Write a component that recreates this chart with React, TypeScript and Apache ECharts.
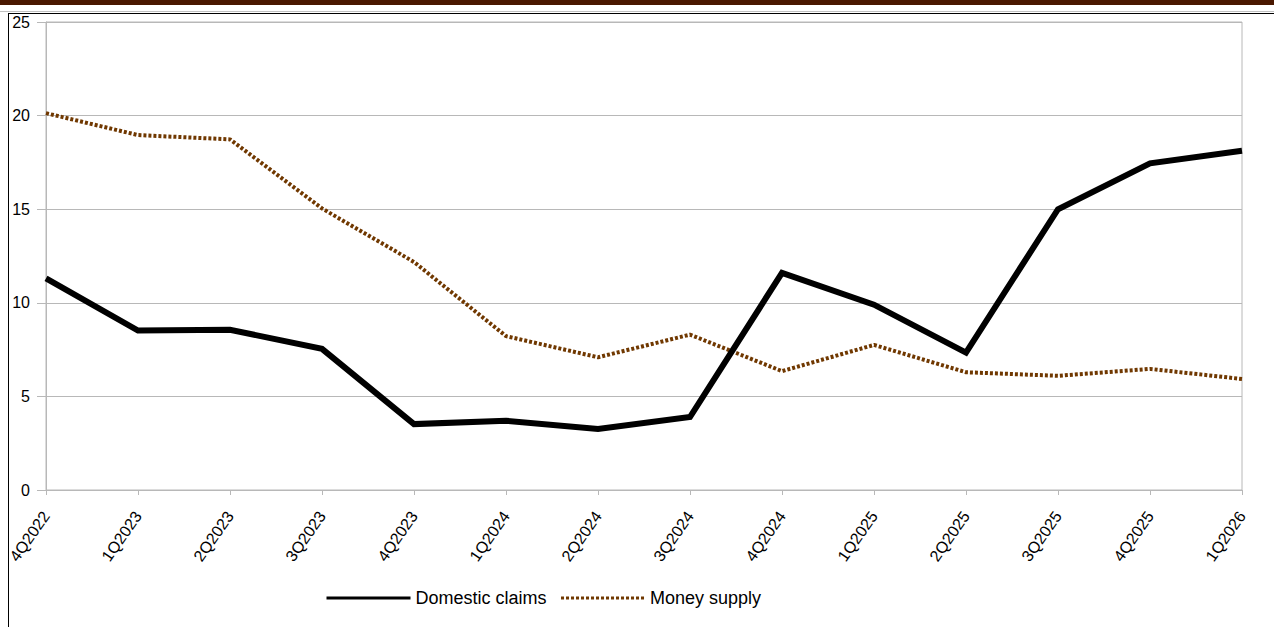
import React, { useEffect, useRef } from "react";
import * as echarts from "echarts";

const categories = [
  "4Q2022", "1Q2023", "2Q2023", "3Q2023", "4Q2023", "1Q2024", "2Q2024",
  "3Q2024", "4Q2024", "1Q2025", "2Q2025", "3Q2025", "4Q2025", "1Q2026",
];
const domesticClaims = [11.3, 8.52, 8.56, 7.54, 3.52, 3.7, 3.26, 3.9, 11.6, 9.9, 7.34, 15.0, 17.45, 18.12];
const moneySupply = [20.13, 18.96, 18.73, 15.04, 12.18, 8.22, 7.09, 8.3, 6.35, 7.75, 6.29, 6.1, 6.47, 5.93];
const yTicks = { min: 0, max: 25, interval: 5 };

const FONT = "'Liberation Sans', Arial, sans-serif";
const GRID_GRAY = "#b8b8b8";
const BROWN = "#703800";

export default function App() {
  const ref = useRef<HTMLDivElement>(null);
  useEffect(() => {
    if (!ref.current) return;
    const chart = echarts.init(ref.current, null, { renderer: "svg" });
    chart.setOption({
      animation: false,
      backgroundColor: "#ffffff",
      textStyle: { fontFamily: FONT },
      grid: {
        left: 46,
        right: 32,
        top: 22,
        bottom: 137,
        show: true,
        borderColor: GRID_GRAY,
        borderWidth: 1,
        backgroundColor: "transparent",
      },
      graphic: [
        { type: "rect", shape: { x: 0, y: 0, width: 1274, height: 5 }, style: { fill: "#4a1800" }, silent: true },
        { type: "line", shape: { x1: 0, y1: 11.5, x2: 1274, y2: 11.5 }, style: { stroke: "#c0c0c0", lineWidth: 1 }, silent: true },
        { type: "line", shape: { x1: 8, y1: 13.5, x2: 1274, y2: 13.5 }, style: { stroke: "#000", lineWidth: 1 }, silent: true },
        { type: "line", shape: { x1: 8.5, y1: 13, x2: 8.5, y2: 627 }, style: { stroke: "#000", lineWidth: 1 }, silent: true },
      ],
      legend: {
        show: true,
        orient: "horizontal",
        left: 320,
        top: 584,
        itemWidth: 84,
        itemHeight: 16,
        itemGap: 13,
        itemStyle: { opacity: 0 },
        lineStyle: { width: 3 },
        textStyle: { fontSize: 18, color: "#000", fontFamily: FONT },
        data: ["Domestic claims", "Money supply"],
      },
      xAxis: {
        type: "category",
        data: categories,
        boundaryGap: false,
        axisLine: { show: true, lineStyle: { color: GRID_GRAY, width: 1 } },
        axisTick: { show: true, length: 5, interval: 0, lineStyle: { color: GRID_GRAY } },
        axisLabel: { interval: 0, rotate: 55, fontSize: 16, color: "#000", margin: 23, fontFamily: FONT },
        splitLine: { show: false },
      },
      yAxis: {
        type: "value",
        min: yTicks.min,
        max: yTicks.max,
        interval: yTicks.interval,
        axisLine: { show: true, lineStyle: { color: GRID_GRAY, width: 1 } },
        axisTick: { show: true, length: 9, lineStyle: { color: GRID_GRAY } },
        axisLabel: { fontSize: 16, color: "#000", margin: 16, fontFamily: FONT },
        splitLine: { show: true, lineStyle: { color: GRID_GRAY, width: 1 } },
      },
      series: [
        {
          name: "Domestic claims",
          type: "line",
          data: domesticClaims,
          symbol: "none",
          lineStyle: { color: "#000", width: 6, join: "miter" },
          itemStyle: { color: "#000" },
          z: 3,
        },
        {
          name: "Money supply",
          type: "line",
          data: moneySupply,
          symbol: "none",
          lineStyle: { color: BROWN, width: 4, type: [3, 2] },
          itemStyle: { color: BROWN },
          z: 2,
        },
      ],
    });
    return () => chart.dispose();
  }, []);
  return (
    <div
      ref={ref}
      style={{ position: "fixed", left: 0, top: 0, width: 1274, height: 627 }}
    />
  );
}
